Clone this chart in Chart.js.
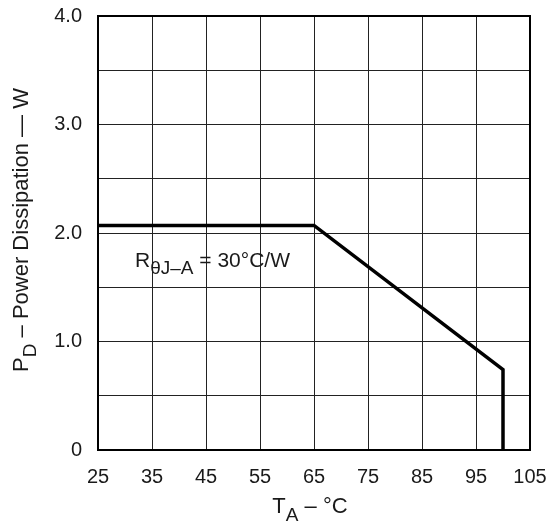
<!DOCTYPE html>
<html>
<head>
<meta charset="utf-8">
<script src="https://cdn.jsdelivr.net/npm/chart.js@4.4.0/dist/chart.umd.min.js"></script>
<style>
  html, body { margin: 0; padding: 0; background: #fff; }
  #wrap { width: 549px; height: 522px; }
</style>
</head>
<body>
<div id="wrap"><canvas id="derating"></canvas></div>
<script>
// derating curve
var tempC = [25, 65, 100, 100];
var powerW = [2.07, 2.07, 0.74, 0];

var xTicks = [25, 35, 45, 55, 65, 75, 85, 95, 105];
var yLabels = { 0: '0', 1: '1.0', 2: '2.0', 3: '3.0', 4: '4.0' };

var FONT = '"Liberation Sans", Arial, sans-serif';
var INK = '#1a1a1a';

var points = [];
for (var i = 0; i < tempC.length; i++) {
    points.push({ x: tempC[i], y: powerW[i] });
}

// draw text pieces with optional subscript
function drawParts(ctx, parts, x, y, align) {
    var total = 0;
    parts.forEach(function (p) {
        ctx.font = p.size + 'px ' + FONT;
        p.w = ctx.measureText(p.t).width;
        total += p.w;
    });
    var cx = align === 'center' ? x - total / 2 : x;
    parts.forEach(function (p) {
        ctx.font = p.size + 'px ' + FONT;
        ctx.fillText(p.t, cx, y + (p.dy || 0));
        cx += p.w;
    });
}

var labelsPlugin = {
    id: 'labels',
    afterDraw: function (chart) {
        var ctx = chart.ctx;
        var a = chart.chartArea;
        ctx.save();
        // frame
        ctx.strokeStyle = '#000';
        ctx.lineWidth = 2;
        ctx.strokeRect(a.left, a.top, a.right - a.left, a.bottom - a.top);

        ctx.fillStyle = INK;
        ctx.textBaseline = 'alphabetic';
        ctx.textAlign = 'left';

        // x title
        drawParts(ctx, [
            { t: 'T', size: 22 },
            { t: 'A', size: 19, dy: 8 },
            { t: ' \u2013 \u00B0C', size: 22 }
        ], 310, 513, 'center');

        // y title
        ctx.save();
        ctx.translate(28, 230);
        ctx.rotate(-Math.PI / 2);
        drawParts(ctx, [
            { t: 'P', size: 22 },
            { t: 'D', size: 19, dy: 8 },
            { t: ' \u2013 Power Dissipation \u2014 W', size: 22 }
        ], 0, 0, 'center');
        ctx.restore();

        // thermal resistance note
        drawParts(ctx, [
            { t: 'R', size: 21 },
            { t: '\u03B8J\u2013A', size: 19, dy: 7 },
            { t: ' = 30\u00B0C/W', size: 21 }
        ], 135, 267, 'left');
        ctx.restore();
    }
};

new Chart(document.getElementById('derating'), {
    type: 'line',
    data: {
        datasets: [{
            data: points,
            borderColor: '#000',
            borderWidth: 3.5,
            pointRadius: 0,
            tension: 0,
            fill: false
        }]
    },
    options: {
        responsive: true,
        maintainAspectRatio: false,
        animation: false,
        layout: { padding: { top: 16, right: 19, left: 0, bottom: 0 } },
        plugins: {
            legend: { display: false },
            tooltip: { enabled: false }
        },
        scales: {
            x: {
                type: 'linear',
                min: 25,
                max: 105,
                afterBuildTicks: function (scale) {
                    scale.ticks = xTicks.map(function (v) { return { value: v }; });
                },
                afterFit: function (scale) {
                    scale.height = 72;
                    scale.paddingLeft = 0;
                    scale.paddingRight = 0;
                },
                grid: { color: '#222', lineWidth: 1, drawTicks: false },
                border: { display: false },
                ticks: {
                    color: INK,
                    padding: 15,
                    maxRotation: 0,
                    font: { family: FONT, size: 20 }
                }
            },
            y: {
                type: 'linear',
                min: 0,
                max: 4,
                afterFit: function (scale) {
                    scale.width = 98;
                    scale.paddingTop = 0;
                    scale.paddingBottom = 0;
                },
                grid: { color: '#222', lineWidth: 1, drawTicks: false },
                border: { display: false },
                ticks: {
                    stepSize: 0.5,
                    color: INK,
                    padding: 16,
                    font: { family: FONT, size: 20 },
                    callback: function (v) {
                        return yLabels[v] !== undefined ? yLabels[v] : '';
                    }
                }
            }
        }
    },
    plugins: [labelsPlugin]
});
</script>
</body>
</html>
